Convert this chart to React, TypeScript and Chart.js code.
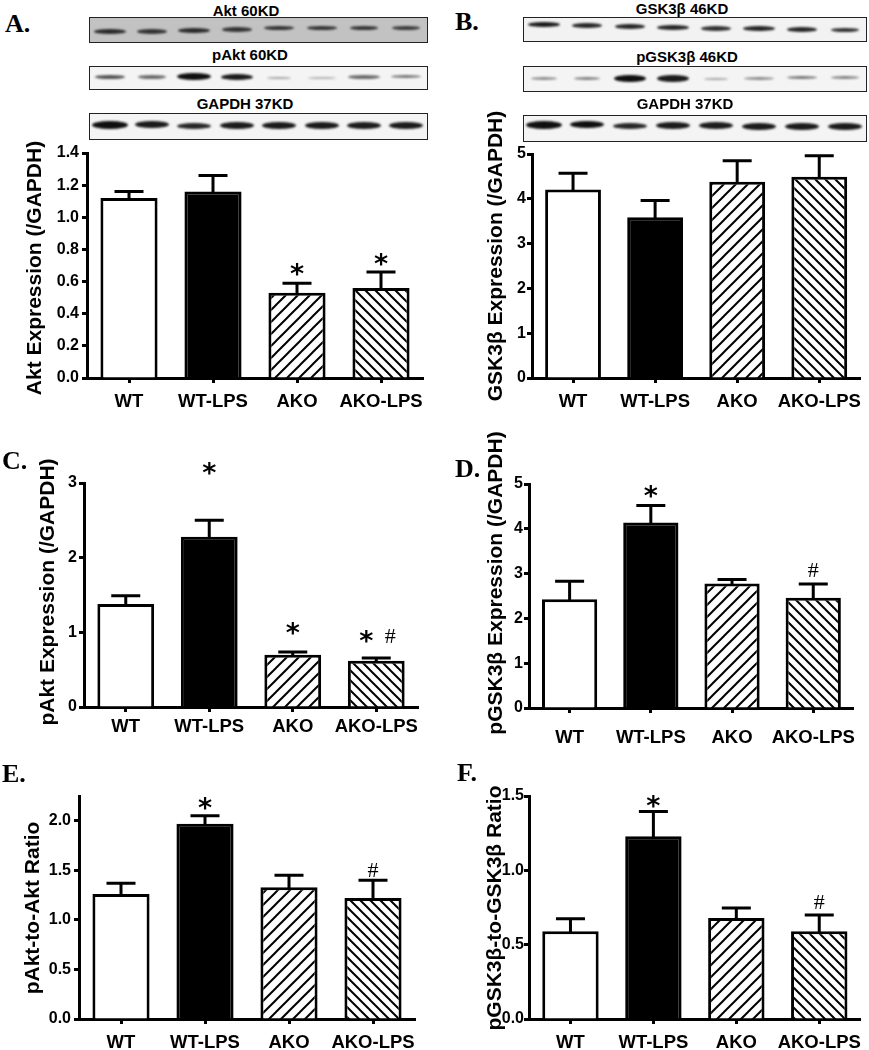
import React, { useEffect, useRef } from 'react';
import { Chart, registerables } from 'chart.js';

Chart.register(...registerables);

// ---------------- DATA ----------------
const categories = ['WT', 'WT-LPS', 'AKO', 'AKO-LPS'];

const aktMean = [1.12, 1.16, 0.53, 0.56];
const aktErr = [0.04, 0.10, 0.06, 0.10];
const aktSig = ['', '', '*', '*'];
const aktSigAt = [null, null, 0.685, 0.747];
const aktTicks = [0, 0.2, 0.4, 0.6, 0.8, 1.0, 1.2, 1.4];

const gskMean = [4.21, 3.59, 4.38, 4.49];
const gskErr = [0.36, 0.37, 0.47, 0.47];
const gskSig = ['', '', '', ''];
const gskSigAt = [null, null, null, null];
const gskTicks = [0, 1, 2, 3, 4, 5];

const pAktMean = [1.38, 2.28, 0.70, 0.62];
const pAktErr = [0.11, 0.22, 0.035, 0.035];
const pAktSig = ['', '*', '*', '*#'];
const pAktSigAt = [null, 3.21, 1.075, 0.964];
const pAktTicks = [0, 1, 2, 3];

const pGskMean = [2.43, 4.14, 2.78, 2.46];
const pGskErr = [0.40, 0.38, 0.09, 0.31];
const pGskSig = ['', '*', '', '#'];
const pGskSigAt = [null, 4.87, null, 3.08];
const pGskTicks = [0, 1, 2, 3, 4, 5];

const aktRatioMean = [1.26, 1.97, 1.33, 1.22];
const aktRatioErr = [0.11, 0.08, 0.12, 0.18];
const aktRatioSig = ['', '*', '', '#'];
const aktRatioSigAt = [null, 2.19, null, 1.51];
const aktRatioTicks = [0, 0.5, 1.0, 1.5, 2.0];

const gskRatioMean = [0.59, 1.23, 0.68, 0.59];
const gskRatioErr = [0.085, 0.165, 0.067, 0.11];
const gskRatioSig = ['', '*', '', '#'];
const gskRatioSigAt = [null, 1.471, null, 0.789];
const gskRatioTicks = [0, 0.5, 1.0, 1.5];

// ---------------- LAYOUT ----------------
type PanelCfg = {
  id: string;
  left: number; top: number; width: number; height: number;
  axisX: number; topY: number; rightX: number; bottomY: number;
  max: number; ticks: number[]; decimals: number;
  title: string; titleX: number; titleY: number; xPad: number; yPad: number;
  means: number[]; errs: number[]; sig: string[]; sigAt: (number | null)[];
};

const panels: PanelCfg[] = [
  { id: 'A', left: 0, top: 125, width: 434, height: 305, axisX: 87, topY: 153, rightX: 423, bottomY: 378,
    max: 1.4, ticks: aktTicks, decimals: 1, title: 'Akt Expression (/GAPDH)', titleX: 35, titleY: 268, xPad: 8, yPad: 3,
    means: aktMean, errs: aktErr, sig: aktSig, sigAt: aktSigAt },
  { id: 'B', left: 436, top: 100, width: 433, height: 330, axisX: 532, topY: 154, rightX: 868, bottomY: 378,
    max: 5, ticks: gskTicks, decimals: 0, title: 'GSK3β Expression (/GAPDH)', titleX: 496, titleY: 256, xPad: 8, yPad: 1,
    means: gskMean, errs: gskErr, sig: gskSig, sigAt: gskSigAt },
  { id: 'C', left: 0, top: 440, width: 434, height: 310, axisX: 84, topY: 483, rightX: 418, bottomY: 707,
    max: 3, ticks: pAktTicks, decimals: 0, title: 'pAkt Expression (/GAPDH)', titleX: 48, titleY: 592, xPad: 4, yPad: 2,
    means: pAktMean, errs: pAktErr, sig: pAktSig, sigAt: pAktSigAt },
  { id: 'D', left: 436, top: 420, width: 433, height: 330, axisX: 529, topY: 484, rightX: 868, bottomY: 708,
    max: 5, ticks: pGskTicks, decimals: 0, title: 'pGSK3β Expression (/GAPDH)', titleX: 496, titleY: 583, xPad: 14, yPad: 1,
    means: pGskMean, errs: pGskErr, sig: pGskSig, sigAt: pGskSigAt },
  { id: 'E', left: 0, top: 760, width: 434, height: 290, axisX: 79, topY: 796, rightX: 415, bottomY: 1019,
    max: 2.25, ticks: aktRatioTicks, decimals: 1, title: 'pAkt-to-Akt Ratio', titleX: 33, titleY: 908, xPad: 8, yPad: 3,
    means: aktRatioMean, errs: aktRatioErr, sig: aktRatioSig, sigAt: aktRatioSigAt },
  { id: 'F', left: 436, top: 760, width: 433, height: 290, axisX: 529, topY: 796, rightX: 868, bottomY: 1019,
    max: 1.5, ticks: gskRatioTicks, decimals: 1, title: 'pGSK3β-to-GSK3β Ratio', titleX: 495, titleY: 908, xPad: 8, yPad: 0,
    means: gskRatioMean, errs: gskRatioErr, sig: gskRatioSig, sigAt: gskRatioSigAt },
];

const SANS = "'Liberation Sans', Arial, sans-serif";
const STAR = "'DejaVu Sans', sans-serif";
const SERIF = "'Liberation Serif', 'DejaVu Serif', serif";

function makeHatch(dir: number, p: number) {
  const c = document.createElement('canvas');
  c.width = p; c.height = p;
  const g = c.getContext('2d')!;
  g.fillStyle = '#fff';
  g.fillRect(0, 0, p, p);
  g.strokeStyle = '#000';
  g.lineWidth = 2;
  g.beginPath();
  if (dir === 1) {
    g.moveTo(0, p); g.lineTo(p, 0);
    g.moveTo(-p / 2, p / 2); g.lineTo(p / 2, -p / 2);
    g.moveTo(p / 2, p * 1.5); g.lineTo(p * 1.5, p / 2);
  } else {
    g.moveTo(0, 0); g.lineTo(p, p);
    g.moveTo(p / 2, -p / 2); g.lineTo(p * 1.5, p / 2);
    g.moveTo(-p / 2, p / 2); g.lineTo(p / 2, p * 1.5);
  }
  g.stroke();
  return g.createPattern(c, 'repeat');
}

function BarPanel({ p }: { p: PanelCfg }) {
  const ref = useRef<HTMLCanvasElement | null>(null);
  useEffect(() => {
    const canvas = ref.current;
    if (!canvas) return;
    const hatchA = makeHatch(1, 12);
    const hatchB = makeHatch(-1, 10);

    const drawStar = (ctx: CanvasRenderingContext2D, x: number, y: number) => {
      const size = 27;
      ctx.font = `bold ${size}px ${STAR}`;
      ctx.textAlign = 'center';
      ctx.textBaseline = 'alphabetic';
      ctx.fillText('*', x, y + 0.56 * size);
    };
    const drawHash = (ctx: CanvasRenderingContext2D, x: number, y: number) => {
      const size = 22;
      ctx.font = `${size}px ${SERIF}`;
      ctx.textAlign = 'center';
      ctx.textBaseline = 'alphabetic';
      ctx.fillText('#', x, y + 0.34 * size);
    };

    const errPlugin = {
      id: 'errbars' + p.id,
      afterDatasetsDraw(chart: any) {
        const meta = chart.getDatasetMeta(0);
        const ys = chart.scales.y;
        const ctx: CanvasRenderingContext2D = chart.ctx;
        ctx.save();
        ctx.strokeStyle = '#000';
        ctx.fillStyle = '#000';
        ctx.lineWidth = 3;
        meta.data.forEach((bar: any, i: number) => {
          const x = bar.x;
          const y0 = ys.getPixelForValue(p.means[i]) + 1;
          const y1 = ys.getPixelForValue(p.means[i] + p.errs[i]);
          ctx.beginPath();
          ctx.moveTo(x, y0); ctx.lineTo(x, y1);
          ctx.moveTo(x - 14.5, y1); ctx.lineTo(x + 14.5, y1);
          ctx.stroke();
          const s = p.sig[i];
          const at = p.sigAt[i];
          if (s && at !== null) {
            const py = ys.getPixelForValue(at);
            if (s === '*') drawStar(ctx, x, py);
            else if (s === '#') drawHash(ctx, x, py);
            else if (s === '*#') { drawStar(ctx, x - 10, py); drawHash(ctx, x + 14, py); }
          }
        });
        // rotated y-axis title
        ctx.save();
        ctx.translate(p.titleX - p.left, p.titleY - p.top);
        ctx.rotate(-Math.PI / 2);
        ctx.font = `bold 21px ${SANS}`;
        ctx.textAlign = 'center';
        ctx.textBaseline = 'middle';
        ctx.fillText(p.title, 0, 0);
        ctx.restore();
        ctx.restore();
      },
    };

    const gridCfg = {
      display: true, drawOnChartArea: false, drawTicks: true,
      tickLength: 5, tickWidth: 3, tickColor: '#000', offset: false,
    };
    const borderCfg = { display: true, color: '#000', width: 3 };

    const chart = new Chart(canvas, {
      type: 'bar',
      data: {
        labels: categories,
        datasets: [{
          data: p.means,
          backgroundColor: ['#ffffff', '#000000', hatchA as any, hatchB as any],
          borderColor: '#000',
          borderWidth: 3,
          borderSkipped: 'start',
          barPercentage: 0.68,
          categoryPercentage: 1,
        }],
      },
      options: {
        animation: false,
        responsive: false,
        maintainAspectRatio: false,
        devicePixelRatio: 1,
        events: [],
        layout: { padding: { left: 0, top: p.topY - p.top, right: p.left + p.width - p.rightX, bottom: 0 } },
        plugins: { legend: { display: false }, tooltip: { enabled: false } },
        scales: {
          x: {
            type: 'category',
            z: 1,
            grid: gridCfg as any,
            border: borderCfg,
            ticks: {
              color: '#000', padding: p.xPad, maxRotation: 0, autoSkip: false,
              font: { family: SANS, weight: 'bold', size: 18.5 },
            },
            afterFit: (s: any) => { s.height = p.top + p.height - p.bottomY; },
          },
          y: {
            min: 0,
            max: p.max,
            afterBuildTicks: (a: any) => { a.ticks = p.ticks.map((v) => ({ value: v })); },
            grid: gridCfg as any,
            border: borderCfg,
            ticks: {
              color: '#000', padding: p.yPad,
              font: { family: SANS, weight: 'bold', size: 16 },
              callback: (v: any) => Number(v).toFixed(p.decimals),
            },
            title: { display: false },
            afterFit: (s: any) => { s.width = p.axisX - p.left; },
          },
        },
      },
      plugins: [errPlugin],
    } as any);
    return () => chart.destroy();
  }, [p]);
  return (
    <canvas
      ref={ref}
      width={p.width}
      height={p.height}
      style={{ position: 'absolute', left: p.left, top: p.top, width: p.width, height: p.height }}
    />
  );
}

// ---------------- BLOTS (decorative images) ----------------
type Blot = {
  x: number; y: number; w: number; h: number; bg: string;
  label: string; lx: number; ly: number;
  dy: number[]; a: number[]; bh: number[]; bw: number[];
};

const blots: Blot[] = [
  { x: 89, y: 17, w: 339, h: 26, bg: '#c2c2c2', label: 'Akt 60KD', lx: 246, ly: 9.5,
    dy: [15, 15, 14, 13, 11, 11, 11, 11], a: [0.85, 0.8, 0.85, 0.8, 0.8, 0.8, 0.8, 0.75],
    bh: [5, 5, 5, 5, 4, 4, 4, 4], bw: [32, 30, 32, 30, 30, 30, 28, 28] },
  { x: 89, y: 66, w: 339, h: 24, bg: '#f4f4f4', label: 'pAkt 60KD', lx: 250, ly: 54,
    dy: [11, 11, 11, 11, 12, 12, 11, 11], a: [0.7, 0.6, 1, 0.95, 0.35, 0.3, 0.6, 0.55],
    bh: [4, 4, 7, 6, 2, 2, 4, 3], bw: [30, 28, 34, 32, 24, 28, 32, 30] },
  { x: 89, y: 113, w: 339, h: 27, bg: '#f4f4f4', label: 'GAPDH 37KD', lx: 245, ly: 103,
    dy: [12, 12, 13, 13, 13, 13, 13, 13], a: [1, 0.95, 0.9, 0.95, 0.95, 0.95, 0.95, 0.95],
    bh: [8, 7, 6, 7, 7, 7, 7, 7], bw: [36, 34, 34, 34, 34, 34, 34, 34] },
  { x: 523, y: 17, w: 344, h: 25, bg: '#f2f2f2', label: 'GSK3β 46KD', lx: 682, ly: 8,
    dy: [8, 9, 10, 11, 12, 12, 13, 13], a: [0.95, 0.9, 0.9, 0.9, 0.85, 0.9, 0.9, 0.85],
    bh: [5, 5, 5, 5, 5, 5, 5, 4], bw: [32, 30, 30, 32, 30, 32, 30, 28] },
  { x: 523, y: 66, w: 344, h: 26, bg: '#f4f4f4', label: 'pGSK3β 46KD', lx: 687, ly: 56,
    dy: [13, 13, 13, 13, 13, 13, 12, 12], a: [0.45, 0.5, 1, 0.95, 0.35, 0.45, 0.55, 0.5],
    bh: [3, 3, 7, 7, 2, 3, 3, 3], bw: [26, 26, 32, 32, 24, 30, 30, 28] },
  { x: 523, y: 115, w: 344, h: 27, bg: '#f4f4f4', label: 'GAPDH 37KD', lx: 685, ly: 103,
    dy: [10, 10, 11, 11, 11, 12, 12, 12], a: [1, 1, 0.9, 0.95, 0.95, 0.95, 0.95, 0.95],
    bh: [8, 7, 6, 7, 7, 7, 7, 7], bw: [36, 34, 34, 34, 34, 34, 34, 34] },
];

const letters = [
  { t: 'A.', x: 5, y: 11 },
  { t: 'B.', x: 455, y: 9 },
  { t: 'C.', x: 2, y: 448 },
  { t: 'D.', x: 455, y: 456 },
  { t: 'E.', x: 2, y: 761 },
  { t: 'F.', x: 457, y: 760 },
];

function BlotBox({ b }: { b: Blot }) {
  const lane = b.w / 8;
  return (
    <>
      <div style={{
        position: 'absolute', left: b.lx, top: b.ly, transform: 'translate(-50%, -50%)',
        font: `bold 15px ${SANS}`, lineHeight: '15px', whiteSpace: 'nowrap', color: '#000',
      }}>{b.label}</div>
      <div style={{
        position: 'absolute', left: b.x, top: b.y, width: b.w, height: b.h,
        boxSizing: 'border-box', border: '1.5px solid #222', background: b.bg, overflow: 'hidden',
      }}>
        {b.a.map((a, k) => (
          <div key={k} style={{
            position: 'absolute',
            left: (k + 0.5) * lane - b.bw[k] / 2 - 1.5,
            top: b.dy[k] - b.bh[k] / 2 - 1.5,
            width: b.bw[k], height: b.bh[k], borderRadius: '50%',
            background: `rgba(15,15,15,${a})`, filter: 'blur(1px)',
          }} />
        ))}
      </div>
    </>
  );
}

export default function App() {
  return (
    <div style={{ position: 'absolute', left: 0, top: 0, width: 869, height: 1050, overflow: 'hidden', background: '#fff' }}>
      {panels.map((p) => <BarPanel key={p.id} p={p} />)}
      {blots.map((b, i) => <BlotBox key={i} b={b} />)}
      {letters.map((l) => (
        <div key={l.t} style={{
          position: 'absolute', left: l.x, top: l.y, font: `bold 26px ${SERIF}`, lineHeight: '26px', color: '#000',
        }}>{l.t}</div>
      ))}
    </div>
  );
}
